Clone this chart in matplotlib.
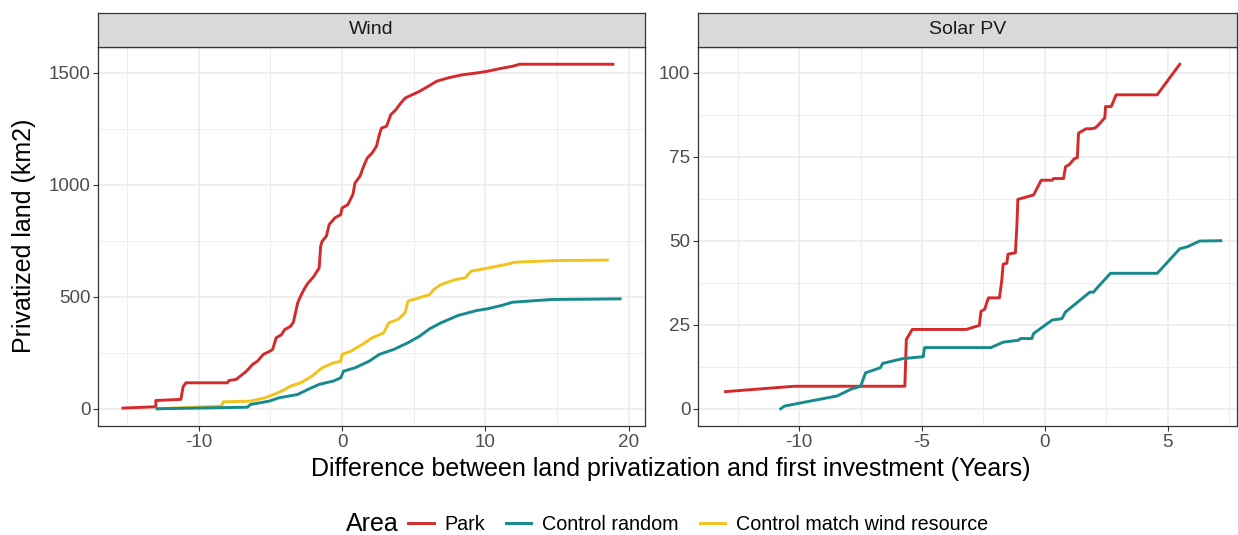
import matplotlib
matplotlib.use("Agg")
import matplotlib.pyplot as plt
from matplotlib.lines import Line2D

plt.rcParams["font.family"] = ["Liberation Sans", "DejaVu Sans"]
plt.rcParams["axes.unicode_minus"] = False

# Wind panel
wind_park_x = [-15.3, -13.0, -13.0, -11.25, -11.1, -10.9, -8.0, -7.9, -7.4, -7.1, -6.75, -6.5, -6.25,
               -5.9, -5.5, -5.1, -4.85, -4.6, -4.25, -4.0, -3.6, -3.4, -3.1, -2.9, -2.6, -2.4, -2.0,
               -1.6, -1.5, -1.4, -1.1, -0.9, -0.5, -0.1, 0.0, 0.4, 0.75, 0.9, 1.25, 1.5, 1.75, 2.1,
               2.4, 2.6, 2.75, 3.1, 3.4, 3.75, 4.1, 4.4, 4.9, 5.4, 6.0, 6.6, 7.4, 8.4, 9.4, 10.1,
               10.9, 11.9, 12.4, 18.9]
wind_park_y = [3, 9, 37, 42, 98, 116, 116, 126, 131, 146, 164, 180, 198, 213, 243, 255, 265, 317,
               330, 354, 368, 387, 473, 503, 540, 560, 589, 629, 726, 748, 771, 823, 853, 867, 897,
               912, 957, 1009, 1039, 1083, 1120, 1143, 1173, 1225, 1254, 1262, 1314, 1336, 1366,
               1388, 1403, 1418, 1440, 1463, 1478, 1492, 1500, 1507, 1518, 1530, 1539, 1539]

wind_random_x = [-12.9, -6.6, -6.4, -5.1, -4.4, -3.1, -2.4, -1.6, -0.6, -0.1, 0.1, 0.9, 1.9, 2.6,
                 3.6, 4.6, 5.4, 6.1, 6.9, 8.1, 9.4, 10.1, 11.1, 11.9, 14.6, 19.4]
wind_random_y = [0, 7, 19, 34, 49, 64, 86, 109, 124, 138, 168, 183, 213, 243, 265, 295, 324, 357,
                 384, 417, 439, 446, 461, 476, 488, 491]

wind_match_x = [-12.9, -8.4, -8.3, -6.4, -5.4, -4.6, -4.0, -3.6, -2.9, -2.1, -1.4, -0.6, -0.1, 0.0,
                0.6, 1.4, 2.1, 2.9, 3.25, 3.9, 4.4, 4.6, 5.4, 6.1, 6.4, 6.9, 7.9, 8.6, 9.0, 9.9,
                10.6, 11.4, 12.1, 14.9, 18.5]
wind_match_y = [0, 12, 31, 34, 49, 68, 86, 101, 116, 146, 183, 205, 212, 243, 257, 287, 317, 339,
                384, 399, 429, 481, 496, 510, 533, 555, 577, 585, 615, 625, 634, 644, 655, 662, 664]

# Solar PV panel
solar_park_x = [-13.0, -10.2, -5.7, -5.64, -5.4, -3.2, -2.67, -2.6, -2.45, -2.3, -1.85, -1.75, -1.7,
                -1.55, -1.5, -1.2, -1.14, -1.1, -0.46, -0.15, 0.3, 0.35, 0.76, 0.84, 1.0, 1.2, 1.32,
                1.37, 1.68, 1.9, 2.06, 2.2, 2.44, 2.47, 2.7, 2.9, 4.57, 5.49]
solar_park_y = [5.1, 6.7, 6.7, 20.6, 23.6, 23.6, 24.8, 29.0, 29.6, 33.0, 33.0, 38.5, 43.0, 43.3, 46.0,
                46.4, 54.4, 62.3, 63.6, 68.0, 68.0, 68.5, 68.5, 72.0, 72.7, 74.4, 74.7, 82.0, 83.3,
                83.3, 83.6, 84.6, 86.6, 89.9, 89.9, 93.4, 93.4, 102.5]

solar_random_x = [-10.75, -10.6, -9.9, -8.46, -7.9, -7.5, -7.4, -7.3, -6.7, -6.6, -5.8, -4.95, -4.9,
                  -2.2, -1.7, -1.07, -1.0, -0.53, -0.46, 0.3, 0.69, 0.84, 1.83, 1.98, 2.13, 2.67,
                  4.57, 4.7, 5.49, 5.8, 6.3, 7.16]
solar_random_y = [0.0, 0.8, 1.8, 3.8, 5.8, 6.7, 8.7, 10.7, 12.2, 13.5, 14.9, 15.5, 18.2, 18.2, 19.8,
                  20.4, 20.9, 20.9, 22.4, 26.4, 26.8, 28.8, 34.7, 34.7, 36.0, 40.3, 40.3, 41.3, 47.6,
                  48.2, 49.9, 50.0]

area_labels = ["Park", "Control random", "Control match wind resource"]
area_colors = ["#D42A2B", "#178A8D", "#F2C31C"]

W, H = 1238, 535
fig = plt.figure(figsize=(W / 100, H / 100), dpi=100)

grid_col = "#EBEBEB"
border_col = "#333333"
tick_col = "#4D4D4D"
small = 13.6


def expand(vals, frac=0.05):
    lo, hi = min(vals), max(vals)
    pad = (hi - lo) * frac
    return lo - pad, hi + pad


def make_panel(left, right, title, xmaj, xmin, ymaj, ymin):
    ax = fig.add_axes([left / W, 1 - 426 / H, (right - left) / W, (426 - 47) / H])
    ax.set_xticks(xmaj)
    ax.set_xticks(xmin, minor=True)
    ax.set_yticks(ymaj)
    ax.set_yticks(ymin, minor=True)
    ax.grid(which="major", color=grid_col, lw=1.1)
    ax.grid(which="minor", color=grid_col, lw=0.6)
    ax.set_axisbelow(True)
    ax.tick_params(which="major", length=3.5, width=0.8, color=border_col, labelsize=small,
                   labelcolor=tick_col, pad=2)
    ax.tick_params(which="minor", length=0)
    for s in ax.spines.values():
        s.set_color(border_col)
        s.set_linewidth(0.9)
    strip = fig.add_axes([left / W, 1 - 47 / H, (right - left) / W, (47 - 13) / H])
    strip.set_facecolor("#D9D9D9")
    strip.set_xticks([])
    strip.set_yticks([])
    for s in strip.spines.values():
        s.set_color(border_col)
        s.set_linewidth(0.9)
    strip.text(0.5, 0.5, title, ha="center", va="center", fontsize=14, color="#1A1A1A",
               transform=strip.transAxes)
    return ax


ax1 = make_panel(98, 645, "Wind", [-10, 0, 10, 20], [-15, -5, 5, 15],
                 [0, 500, 1000, 1500], [250, 750, 1250])
ax1.plot(wind_park_x, wind_park_y, color=area_colors[0], lw=2.1, solid_joinstyle="round")
ax1.plot(wind_match_x, wind_match_y, color=area_colors[2], lw=2.1, solid_joinstyle="round")
ax1.plot(wind_random_x, wind_random_y, color=area_colors[1], lw=2.1, solid_joinstyle="round")
ax1.set_xlim(*expand(wind_park_x + wind_random_x + wind_match_x))
ax1.set_ylim(*expand(wind_park_y + wind_random_y + wind_match_y))

ax2 = make_panel(698, 1237, "Solar PV", [-10, -5, 0, 5], [-12.5, -7.5, -2.5, 2.5, 7.5],
                 [0, 25, 50, 75, 100], [12.5, 37.5, 62.5, 87.5])
ax2.plot(solar_park_x, solar_park_y, color=area_colors[0], lw=2.1, solid_joinstyle="round")
ax2.plot(solar_random_x, solar_random_y, color=area_colors[1], lw=2.1, solid_joinstyle="round")
ax2.set_xlim(-14.12, 7.82)
ax2.set_ylim(*expand(solar_park_y + solar_random_y))

fig.text(24 / W, 1 - 236 / H, "Privatized land (km2)", rotation=90, ha="center", va="center",
         fontsize=18)
fig.text(671 / W, 1 - 469 / H, "Difference between land privatization and first investment (Years)",
         ha="center", va="center", fontsize=18)

fig.text(346 / W, 1 - 524 / H, "Area", ha="left", va="center", fontsize=18)
handles = [Line2D([], [], color=c, lw=2.1) for c in area_colors]
fig.legend(handles, area_labels, loc="center left", bbox_to_anchor=(408 / W, 1 - 524 / H),
           ncol=3, frameon=False, fontsize=14.2, handlelength=1.3, handletextpad=0.55,
           columnspacing=1.05, borderaxespad=0, borderpad=0)

fig.savefig("out.png", dpi=100)
